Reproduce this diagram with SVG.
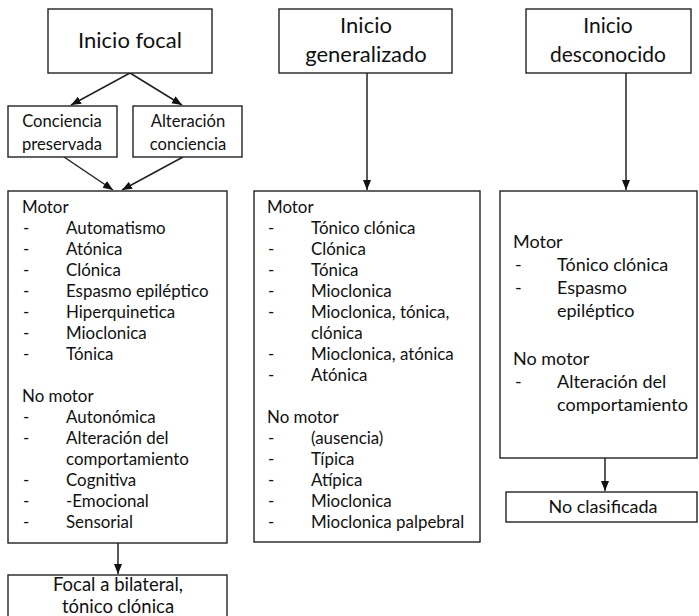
<svg xmlns="http://www.w3.org/2000/svg" width="699" height="616" viewBox="0 0 699 616">
<style>
.box{fill:#fff;stroke:#222;stroke-width:1.4}
text{font-family:Lato,"Open Sans","Liberation Sans",sans-serif;fill:#111}
.t{font-size:22px;text-anchor:middle}
.s{font-size:16.6px;text-anchor:middle}
.l{font-size:16.9px}
.r{font-size:18px}
.c{stroke:#222;stroke-width:1.5;fill:none;marker-end:url(#ah)}
</style>
<defs>
<marker id="ah" markerUnits="userSpaceOnUse" markerWidth="10" markerHeight="10" viewBox="0 0 10 10" refX="10" refY="5" orient="auto">
<path d="M0,1 L10,5 L0,9 Z" fill="#111"/>
</marker>
</defs>
<rect width="699" height="616" fill="#fff"/>
<g id="connectors">
<line class="c" x1="130" y1="73" x2="71" y2="105"/>
<line class="c" x1="130" y1="73" x2="182" y2="105"/>
<line class="c" x1="64" y1="157" x2="113" y2="190"/>
<line class="c" x1="183" y1="157" x2="122" y2="190"/>
<line class="c" x1="367" y1="73" x2="367" y2="190"/>
<line class="c" x1="626" y1="73" x2="626" y2="190"/>
<line class="c" x1="118" y1="543" x2="118" y2="574"/>
<line class="c" x1="605" y1="458" x2="605" y2="491"/>
</g>
<g id="inicio-focal">
<rect class="box" x="48" y="9" width="164" height="64"/>
<text class="t" x="130" y="48">Inicio focal</text>
</g>
<g id="inicio-generalizado">
<rect class="box" x="279" y="9" width="173" height="64"/>
<text class="t" x="366" y="33">Inicio</text>
<text class="t" x="366" y="62">generalizado</text>
</g>
<g id="inicio-desconocido">
<rect class="box" x="526" y="9" width="165" height="64"/>
<text class="t" x="608" y="33" style="font-size:21px">Inicio</text>
<text class="t" x="608" y="62" style="font-size:21px">desconocido</text>
</g>
<g id="conciencia-preservada">
<rect class="box" x="8" y="106" width="109" height="51"/>
<text class="s" x="62" y="127">Conciencia</text>
<text class="s" x="62" y="150">preservada</text>
</g>
<g id="alteracion-conciencia">
<rect class="box" x="133" y="106" width="109" height="51"/>
<text class="s" x="188" y="127">Alteración</text>
<text class="s" x="188" y="150">conciencia</text>
</g>
<g id="focal-list">
<rect class="box" x="8" y="191" width="219" height="352"/>
<g class="l">
<text x="22" y="213">Motor</text>
<text x="23" y="234">-</text><text x="66" y="234">Automatismo</text>
<text x="23" y="255">-</text><text x="66" y="255">Atónica</text>
<text x="23" y="276">-</text><text x="66" y="276">Clónica</text>
<text x="23" y="297">-</text><text x="66" y="297">Espasmo epiléptico</text>
<text x="23" y="318">-</text><text x="66" y="318">Hiperquinetica</text>
<text x="23" y="339">-</text><text x="66" y="339">Mioclonica</text>
<text x="23" y="360">-</text><text x="66" y="360">Tónica</text>
<text x="22" y="402">No motor</text>
<text x="23" y="423">-</text><text x="66" y="423">Autonómica</text>
<text x="23" y="444">-</text><text x="66" y="444">Alteración del</text>
<text x="66" y="465">comportamiento</text>
<text x="23" y="486">-</text><text x="66" y="486">Cognitiva</text>
<text x="23" y="507">-</text><text x="66" y="507">-Emocional</text>
<text x="23" y="528">-</text><text x="66" y="528">Sensorial</text>
</g>
</g>
<g id="generalizado-list">
<rect class="box" x="254" y="191" width="226" height="351"/>
<g class="l">
<text x="267" y="213">Motor</text>
<text x="268" y="234">-</text><text x="311" y="234">Tónico clónica</text>
<text x="268" y="255">-</text><text x="311" y="255">Clónica</text>
<text x="268" y="276">-</text><text x="311" y="276">Tónica</text>
<text x="268" y="297">-</text><text x="311" y="297">Mioclonica</text>
<text x="268" y="318">-</text><text x="311" y="318">Mioclonica, tónica,</text>
<text x="311" y="339">clónica</text>
<text x="268" y="360">-</text><text x="311" y="360">Mioclonica, atónica</text>
<text x="268" y="381">-</text><text x="311" y="381">Atónica</text>
<text x="267" y="423">No motor</text>
<text x="268" y="444">-</text><text x="311" y="444">(ausencia)</text>
<text x="268" y="465">-</text><text x="311" y="465">Típica</text>
<text x="268" y="486">-</text><text x="311" y="486">Atípica</text>
<text x="268" y="507">-</text><text x="311" y="507">Mioclonica</text>
<text x="268" y="528">-</text><text x="311" y="528">Mioclonica palpebral</text>
</g>
</g>
<g id="desconocido-list">
<rect class="box" x="500" y="191" width="197" height="267"/>
<g class="r">
<text x="513" y="248">Motor</text>
<text x="515" y="271">-</text><text x="557" y="271">Tónico clónica</text>
<text x="515" y="294">-</text><text x="557" y="294">Espasmo</text>
<text x="557" y="317">epiléptico</text>
<text x="513" y="365">No motor</text>
<text x="515" y="388">-</text><text x="557" y="388">Alteración del</text>
<text x="557" y="411">comportamiento</text>
</g>
</g>
<g id="focal-bilateral">
<rect class="box" x="8" y="575" width="219" height="50"/>
<text class="t" x="118" y="591" style="font-size:18.5px">Focal a bilateral,</text>
<text class="t" x="118" y="613" style="font-size:18.5px">tónico clónica</text>
</g>
<g id="no-clasificada">
<rect class="box" x="506" y="492" width="191" height="30"/>
<text class="t" x="603" y="513" style="font-size:18px">No clasificada</text>
</g>
</svg>
